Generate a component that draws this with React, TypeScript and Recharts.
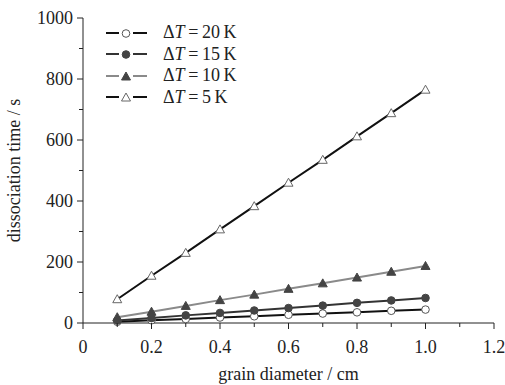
import { LineChart, Line, XAxis, YAxis, Label } from "recharts";

const diameters = [0.1, 0.2, 0.3, 0.4, 0.5, 0.6, 0.7, 0.8, 0.9, 1.0];
const dt20 = [4, 9, 13, 18, 22, 27, 31, 35, 40, 44];
const dt15 = [8, 16, 25, 33, 41, 49, 57, 66, 74, 82];
const dt10 = [19, 37, 56, 75, 93, 112, 130, 149, 168, 187];
const dt5 = [78, 155, 230, 307, 383, 460, 535, 612, 688, 765];

const xTicks = [0, 0.1, 0.2, 0.3, 0.4, 0.5, 0.6, 0.7, 0.8, 0.9, 1.0, 1.1, 1.2];
const yTicks = [0, 100, 200, 300, 400, 500, 600, 700, 800, 900, 1000];

const FONT = "Liberation Serif";

const data = diameters.map((d, i) => ({
  d,
  dt20: dt20[i],
  dt15: dt15[i],
  dt10: dt10[i],
  dt5: dt5[i],
}));

type Marker = "openCircle" | "filledCircle" | "filledTriangle" | "openTriangle";

const series: { key: string; label: string; stroke: string; marker: Marker }[] = [
  { key: "dt20", label: "20", stroke: "#111", marker: "openCircle" },
  { key: "dt15", label: "15", stroke: "#333", marker: "filledCircle" },
  { key: "dt10", label: "10", stroke: "#8a8a8a", marker: "filledTriangle" },
  { key: "dt5", label: "5", stroke: "#111", marker: "openTriangle" },
];

function MarkerShape({ kind, cx, cy }: { kind: Marker; cx: number; cy: number }) {
  if (kind === "openCircle")
    return <circle cx={cx} cy={cy} r={3.8} fill="#fff" stroke="#555" strokeWidth={1} />;
  if (kind === "filledCircle")
    return <circle cx={cx} cy={cy} r={3.8} fill="#444" stroke="#444" strokeWidth={1} />;
  const pts = `${cx},${cy - 4.5} ${cx - 4.5},${cy + 3.5} ${cx + 4.5},${cy + 3.5}`;
  if (kind === "filledTriangle")
    return <polygon points={pts} fill="#444" stroke="#444" strokeWidth={1} />;
  return <polygon points={pts} fill="#fff" stroke="#666" strokeWidth={1} />;
}

function dotFor(kind: Marker) {
  return (props: any) => (
    <g key={`${kind}-${props.index}`}>
      <MarkerShape kind={kind} cx={props.cx} cy={props.cy} />
    </g>
  );
}

function YTick({ x, y, payload }: any) {
  const ax = x + 8;
  const major = payload.value % 200 === 0;
  return (
    <g>
      <line x1={ax} x2={ax - (major ? 6 : 4)} y1={y} y2={y} stroke="#222" strokeWidth={1} />
      {major && (
        <text
          x={ax - 10}
          y={y}
          dy="0.35em"
          textAnchor="end"
          fill="#222"
          fontFamily={FONT}
          fontSize={18}
          style={{ fontFamily: FONT, fontSize: 18 }}
        >
          {payload.value}
        </text>
      )}
    </g>
  );
}

function XTick({ x, y, payload }: any) {
  const ay = y - 8;
  const v = Math.round(payload.value * 10);
  const major = v % 2 === 0;
  const text = v === 0 ? "0" : (v / 10).toFixed(1);
  return (
    <g>
      <line x1={x} x2={x} y1={ay} y2={ay + (major ? 6 : 4)} stroke="#222" strokeWidth={1} />
      {major && (
        <text
          x={x}
          y={ay + 24}
          dy="0.35em"
          textAnchor="middle"
          fill="#222"
          fontFamily={FONT}
          fontSize={18}
          style={{ fontFamily: FONT, fontSize: 18 }}
        >
          {text}
        </text>
      )}
    </g>
  );
}

function LegendBox() {
  return (
    <div style={{ position: "absolute", left: 104, top: 22, fontFamily: FONT, fontSize: 18, color: "#222" }}>
      {series.map((s) => (
        <div key={s.key} style={{ display: "flex", alignItems: "center", height: 21.5 }}>
          <svg width={46} height={16}>
            <line x1={2} x2={15} y1={8} y2={8} stroke={s.stroke} strokeWidth={2} />
            <line x1={29} x2={43} y1={8} y2={8} stroke={s.stroke} strokeWidth={2} />
            <MarkerShape kind={s.marker} cx={22} cy={8.5} />
          </svg>
          <span style={{ marginLeft: 13 }}>
            Δ<i>T</i>&thinsp;=&thinsp;{s.label}&thinsp;K
          </span>
        </div>
      ))}
    </div>
  );
}

export default function App() {
  return (
    <div style={{ position: "absolute", left: 0, top: 0, width: 505, height: 385, background: "#fff" }}>
      <LineChart width={505} height={385} data={data} margin={{ top: 18, right: 11, bottom: 0, left: 0 }}>
        <XAxis
          dataKey="d"
          type="number"
          domain={[0, 1.2]}
          ticks={xTicks}
          interval={0}
          height={62}
          tickSize={6}
          tickMargin={2}
          tickLine={false}
          tick={<XTick />}
          stroke="#222"
        >
          <Label
            value="grain diameter / cm"
            position="insideBottom"
            offset={5}
            fill="#222"
            fontFamily={FONT}
            fontSize={18}
            style={{ fontFamily: FONT, fontSize: 18 }}
          />
        </XAxis>
        <YAxis
          type="number"
          domain={[0, 1000]}
          ticks={yTicks}
          interval={0}
          width={83}
          tickSize={6}
          tickMargin={2}
          tickLine={false}
          tick={<YTick />}
          stroke="#222"
        >
          <Label
            value="dissociation time / s"
            angle={-90}
            position="insideLeft"
            offset={14}
            fill="#222"
            fontFamily={FONT}
            fontSize={18}
            style={{ fontFamily: FONT, fontSize: 18, textAnchor: "middle" }}
          />
        </YAxis>
        {series.map((s) => (
          <Line
            key={s.key}
            dataKey={s.key}
            stroke={s.stroke}
            strokeWidth={2}
            dot={dotFor(s.marker)}
            activeDot={false}
            isAnimationActive={false}
          />
        ))}
      </LineChart>
      <LegendBox />
    </div>
  );
}
